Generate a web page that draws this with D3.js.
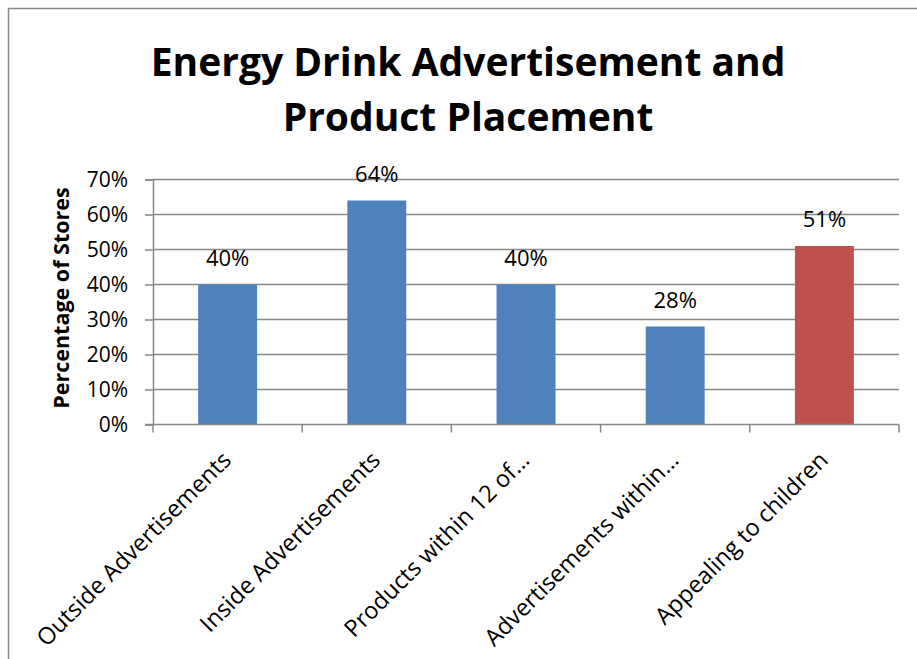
<!DOCTYPE html>
<html>
<head>
<meta charset="utf-8">
<script src="https://cdn.jsdelivr.net/npm/d3@7"></script>
<style>
  html, body { margin: 0; padding: 0; background: #fff; }
  svg { display: block; }
  text { font-family: "Open Sans", "Liberation Sans", sans-serif; fill: #000; }
</style>
</head>
<body>
<svg id="chart" width="917" height="659"></svg>
<script>
// Survey results: share of stores for each observation
const categories = [
  "Outside Advertisements",
  "Inside Advertisements",
  "Products within 12 of\u2026",
  "Advertisements within\u2026",
  "Appealing to children"
];
const values = [0.40, 0.64, 0.40, 0.28, 0.51];
const barColors = ["#4F81BD", "#4F81BD", "#4F81BD", "#4F81BD", "#C0504D"];
const yTicks = [0, 0.1, 0.2, 0.3, 0.4, 0.5, 0.6, 0.7];
const titleLines = ["Energy Drink Advertisement and", "Product Placement"];
const yTitle = "Percentage of Stores";

const svg = d3.select("#chart");

// chart frame
svg.append("rect")
  .attr("x", 8.5).attr("y", 8.5)
  .attr("width", 1000).attr("height", 1000)
  .attr("fill", "#fff")
  .attr("stroke", "#878787").attr("stroke-width", 1.5);

const plot = { left: 153, right: 899, top: 179.5, bottom: 424.5 };

const x = d3.scaleBand()
  .domain(categories)
  .range([plot.left, plot.right])
  .paddingInner(0.605).paddingOuter(0.3025);

const y = d3.scaleLinear()
  .domain([0, 0.7])
  .range([plot.bottom, plot.top]);

const pct = d3.format(".0%");

// title
svg.append("g").selectAll("text")
  .data(titleLines)
  .join("text")
  .attr("x", 468)
  .attr("y", (d, i) => 76 + i * 55)
  .attr("text-anchor", "middle")
  .attr("font-size", 39)
  .attr("font-weight", "bold")
  .text(d => d);

// horizontal gridlines
svg.append("g")
  .selectAll("line")
  .data(yTicks.filter(d => d > 0))
  .join("line")
  .attr("x1", plot.left).attr("x2", plot.right)
  .attr("y1", d => y(d)).attr("y2", d => y(d))
  .attr("stroke", "#888").attr("stroke-width", 1.5);

// y axis
const yAxis = svg.append("g")
  .attr("transform", `translate(${plot.left},0)`)
  .call(d3.axisLeft(y).tickValues(yTicks).tickFormat(pct).tickSize(8).tickPadding(17));
yAxis.select(".domain").attr("stroke", "#888").attr("stroke-width", 1.5);
yAxis.selectAll(".tick line").attr("stroke", "#888").attr("stroke-width", 1.5);
yAxis.selectAll(".tick text")
  .attr("font-size", 21)
  .attr("font-family", "Open Sans")
  .attr("fill", "#000")
  .attr("dy", "0.34em");

// bars
svg.append("g").selectAll("rect")
  .data(values)
  .join("rect")
  .attr("x", (d, i) => x(categories[i]))
  .attr("y", d => y(d))
  .attr("width", x.bandwidth())
  .attr("height", d => y(0) - y(d))
  .attr("fill", (d, i) => barColors[i]);

// value labels
svg.append("g").selectAll("text")
  .data(values)
  .join("text")
  .attr("x", (d, i) => x(categories[i]) + x.bandwidth() / 2)
  .attr("y", d => y(d) - 19)
  .attr("text-anchor", "middle")
  .attr("font-size", 22)
  .text(d => pct(d));

// x axis with tick marks at category boundaries
const boundaries = d3.range(categories.length + 1)
  .map(i => plot.left + i * (plot.right - plot.left) / categories.length);
const xAxis = svg.append("g");
xAxis.append("line")
  .attr("x1", plot.left - 8).attr("x2", plot.right)
  .attr("y1", y(0)).attr("y2", y(0))
  .attr("stroke", "#888").attr("stroke-width", 1.5);
xAxis.selectAll("line.tk")
  .data(boundaries)
  .join("line")
  .attr("class", "tk")
  .attr("x1", d => d).attr("x2", d => d)
  .attr("y1", y(0)).attr("y2", y(0) + 8)
  .attr("stroke", "#888").attr("stroke-width", 1.5);

// rotated category labels
xAxis.selectAll("text")
  .data(categories)
  .join("text")
  .attr("text-anchor", "end")
  .attr("font-size", 23.5)
  .attr("transform", d => `translate(${x(d) + x.bandwidth() / 2 + 5},${y(0) + 37}) rotate(-45)`)
  .text(d => d);

// y axis title
svg.append("text")
  .attr("transform", `translate(69,${(plot.top + plot.bottom) / 2 - 4}) rotate(-90)`)
  .attr("text-anchor", "middle")
  .attr("font-size", 21.5)
  .attr("font-weight", "bold")
  .text(yTitle);
</script>
</body>
</html>
